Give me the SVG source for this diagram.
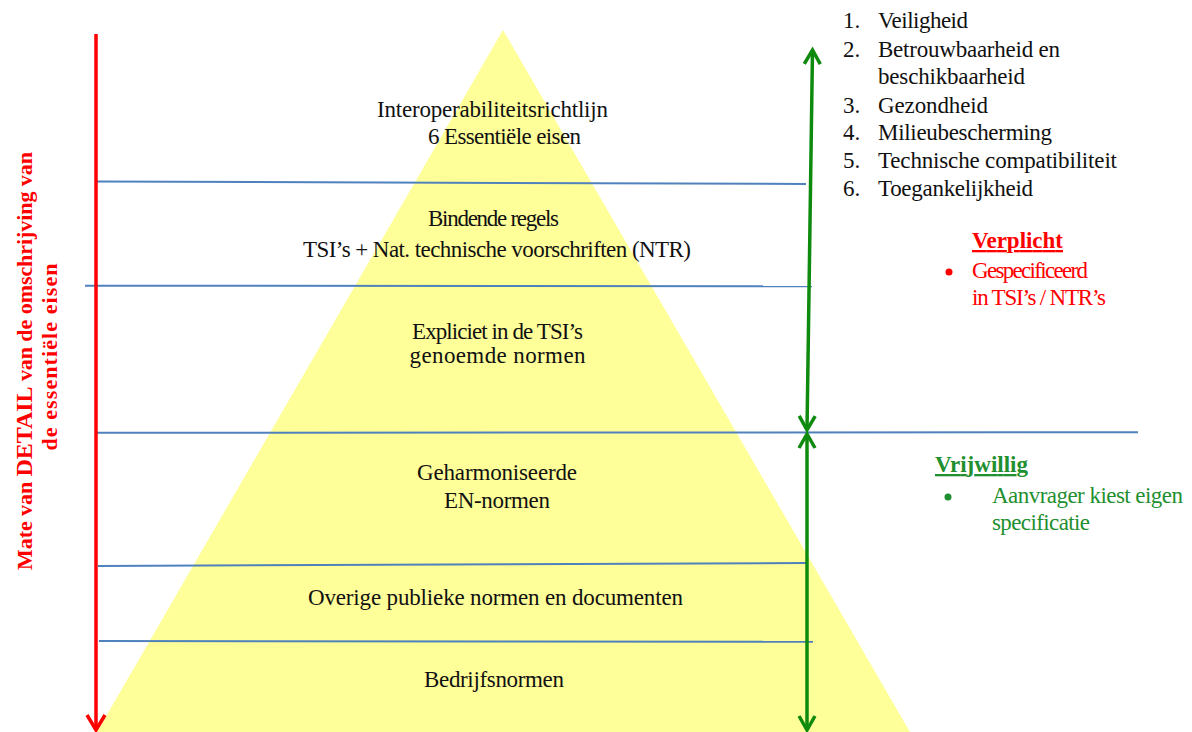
<svg xmlns="http://www.w3.org/2000/svg" width="1192" height="732" viewBox="0 0 1192 732">
<style>
  .t { font-family: "Liberation Serif", "Times New Roman", serif; font-size: 23px; fill: #111; }
  .c { text-anchor: middle; }
  .red { fill: #ff0000; }
  .grn { fill: #1f8f2f; }
  .b { font-weight: bold; }
  .ax { font-size: 22px; }
  .div { stroke: #4f81bd; stroke-width: 2; fill: none; }
  .ra { stroke: #ff0000; stroke-width: 3.5; fill: none; }
  .ga { stroke: #0e8a0e; stroke-width: 3.5; fill: none; }
</style>
<defs>
  <marker id="redHead" markerUnits="userSpaceOnUse" orient="auto" overflow="visible" markerWidth="20" markerHeight="20" refX="0" refY="0">
    <path d="M-15,-9 L0,0 L-15,9" stroke="#ff0000" stroke-width="3.5" fill="none"/>
  </marker>
  <marker id="grnHead" markerUnits="userSpaceOnUse" orient="auto-start-reverse" overflow="visible" markerWidth="20" markerHeight="20" refX="0" refY="0">
    <path d="M-14,-8 L0,0 L-14,8" stroke="#0e8a0e" stroke-width="3.5" fill="none"/>
  </marker>
</defs>
<rect width="1192" height="732" fill="#ffffff"/>

<g id="pyramid">
  <polygon points="503,30 97,732 910,732" fill="#ffff99"/>
</g>

<g id="dividers">
  <line class="div" x1="97" y1="181.5" x2="806" y2="184"/>
  <line class="div" x1="85" y1="285.7" x2="812" y2="286.3"/>
  <line class="div" x1="95" y1="432.7" x2="1138" y2="432.3"/>
  <line class="div" x1="98" y1="566" x2="806" y2="563"/>
  <line class="div" x1="99" y1="641" x2="813" y2="641.7"/>
</g>

<g id="layer-richtlijn">
  <text class="t c" x="492.5" y="117" textLength="231">Interoperabiliteitsrichtlijn</text>
  <text class="t c" x="504.5" y="144" textLength="153">6 Essentiële eisen</text>
</g>
<g id="layer-bindend">
  <text class="t c" x="493.5" y="226" textLength="131">Bindende regels</text>
  <text class="t c" x="497" y="257" textLength="388">TSI’s + Nat. technische voorschriften (NTR)</text>
</g>
<g id="layer-expliciet">
  <text class="t c" x="497.5" y="339" textLength="171">Expliciet in de TSI’s</text>
  <text class="t c" x="497.5" y="363" textLength="176">genoemde normen</text>
</g>
<g id="layer-geharmoniseerd">
  <text class="t c" x="497" y="480" textLength="160">Geharmoniseerde</text>
  <text class="t c" x="497" y="508" textLength="106">EN-normen</text>
</g>
<g id="layer-overige">
  <text class="t c" x="495.5" y="605" textLength="375">Overige publieke normen en documenten</text>
</g>
<g id="layer-bedrijf">
  <text class="t c" x="494" y="687" textLength="140">Bedrijfsnormen</text>
</g>

<g id="connectors">
  <line class="ra" x1="96" y1="34" x2="96" y2="730" marker-end="url(#redHead)"/>
  <line class="ga" x1="812.5" y1="50" x2="807" y2="430" marker-start="url(#grnHead)" marker-end="url(#grnHead)"/>
  <line class="ga" x1="807" y1="434" x2="807" y2="730" marker-start="url(#grnHead)" marker-end="url(#grnHead)"/>
</g>

<g id="axis-label">
  <text class="t ax c red b" transform="translate(32,361) rotate(-90)" textLength="418">Mate van <tspan font-size="24">DETAIL</tspan> van de omschrijving van</text>
  <text class="t ax c red b" transform="translate(57,357) rotate(-90)" textLength="187">de essentiële eisen</text>
</g>

<g id="essential-list">
  <text class="t" x="843" y="28">1.</text><text class="t" x="878" y="28" textLength="90">Veiligheid</text>
  <text class="t" x="843" y="57">2.</text><text class="t" x="878" y="57" textLength="182">Betrouwbaarheid en</text>
  <text class="t" x="878" y="84" textLength="147">beschikbaarheid</text>
  <text class="t" x="843" y="113">3.</text><text class="t" x="878" y="113" textLength="110">Gezondheid</text>
  <text class="t" x="843" y="140">4.</text><text class="t" x="878" y="140" textLength="174">Milieubescherming</text>
  <text class="t" x="843" y="168">5.</text><text class="t" x="878" y="168" textLength="239">Technische compatibiliteit</text>
  <text class="t" x="843" y="196">6.</text><text class="t" x="878" y="196" textLength="155">Toegankelijkheid</text>
</g>

<g id="verplicht">
  <text class="t red b" x="972" y="248" textLength="91" text-decoration="underline">Verplicht</text>
  <circle cx="949" cy="272" r="3.5" fill="#ff0000"/>
  <text class="t red" x="972" y="278" textLength="116">Gespecificeerd</text>
  <text class="t red" x="972" y="305" textLength="134">in TSI’s / NTR’s</text>
</g>

<g id="vrijwillig">
  <text class="t grn b" x="935" y="472" textLength="93" text-decoration="underline">Vrijwillig</text>
  <circle cx="948" cy="497" r="3.5" fill="#1f8f2f"/>
  <text class="t grn" x="992" y="503" textLength="191">Aanvrager kiest eigen</text>
  <text class="t grn" x="992" y="530" textLength="98">specificatie</text>
</g>
</svg>
